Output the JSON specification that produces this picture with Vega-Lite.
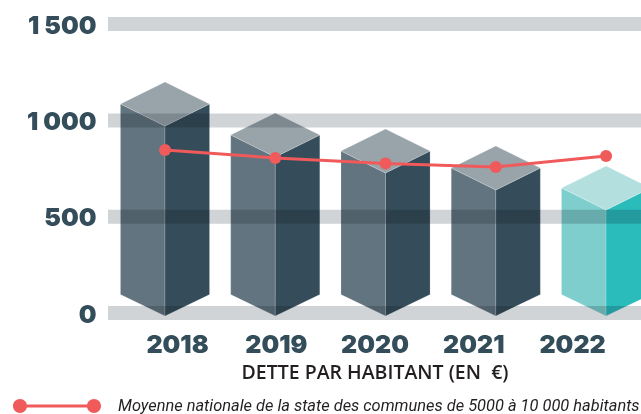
{
"$schema":"https://vega.github.io/schema/vega-lite/v6.json",
"width":533,"height":330,
"autosize":"none",
"padding":{"left":108,"top":0,"right":0,"bottom":84},
"background":"white",
"config":{"view":{"stroke":null}},
"datasets":{
"faces":[
{"annee":2018,"face":"gauche","x":2017.596,"haut":1085,"bas":96},{"annee":2018,"face":"gauche","x":2018,"haut":971,"bas":-15},
{"annee":2018,"face":"droite","x":2018,"haut":971,"bas":-15},{"annee":2018,"face":"droite","x":2018.404,"haut":1085,"bas":96},
{"annee":2018,"face":"dessus","x":2017.596,"haut":1085,"bas":1085},{"annee":2018,"face":"dessus","x":2018,"haut":1199,"bas":971},{"annee":2018,"face":"dessus","x":2018.404,"haut":1085,"bas":1085},
{"annee":2019,"face":"gauche","x":2018.596,"haut":924,"bas":96},{"annee":2019,"face":"gauche","x":2019,"haut":810,"bas":-15},
{"annee":2019,"face":"droite","x":2019,"haut":810,"bas":-15},{"annee":2019,"face":"droite","x":2019.404,"haut":924,"bas":96},
{"annee":2019,"face":"dessus","x":2018.596,"haut":924,"bas":924},{"annee":2019,"face":"dessus","x":2019,"haut":1038,"bas":810},{"annee":2019,"face":"dessus","x":2019.404,"haut":924,"bas":924},
{"annee":2020,"face":"gauche","x":2019.596,"haut":841,"bas":96},{"annee":2020,"face":"gauche","x":2020,"haut":727,"bas":-15},
{"annee":2020,"face":"droite","x":2020,"haut":727,"bas":-15},{"annee":2020,"face":"droite","x":2020.404,"haut":841,"bas":96},
{"annee":2020,"face":"dessus","x":2019.596,"haut":841,"bas":841},{"annee":2020,"face":"dessus","x":2020,"haut":955,"bas":727},{"annee":2020,"face":"dessus","x":2020.404,"haut":841,"bas":841},
{"annee":2021,"face":"gauche","x":2020.596,"haut":753,"bas":96},{"annee":2021,"face":"gauche","x":2021,"haut":639,"bas":-15},
{"annee":2021,"face":"droite","x":2021,"haut":639,"bas":-15},{"annee":2021,"face":"droite","x":2021.404,"haut":753,"bas":96},
{"annee":2021,"face":"dessus","x":2020.596,"haut":753,"bas":753},{"annee":2021,"face":"dessus","x":2021,"haut":867,"bas":639},{"annee":2021,"face":"dessus","x":2021.404,"haut":753,"bas":753},
{"annee":2022,"face":"gauche 2022","x":2021.596,"haut":649,"bas":96},{"annee":2022,"face":"gauche 2022","x":2022,"haut":535,"bas":-15},
{"annee":2022,"face":"droite 2022","x":2022,"haut":535,"bas":-15},{"annee":2022,"face":"droite 2022","x":2022.404,"haut":649,"bas":96},
{"annee":2022,"face":"dessus 2022","x":2021.596,"haut":649,"bas":649},{"annee":2022,"face":"dessus 2022","x":2022,"haut":763,"bas":535},{"annee":2022,"face":"dessus 2022","x":2022.404,"haut":649,"bas":649}
],
"moyenne":[
{"annee":2018,"moyenne":846},{"annee":2019,"moyenne":805},{"annee":2020,"moyenne":776},{"annee":2021,"moyenne":758},{"annee":2022,"moyenne":815}
]
},
"resolve":{"scale":{"x":"independent","color":"independent"}},
"layer":[
{"data":{"name":"faces"},
"mark":{"type":"area","stroke":"#ffffff","strokeOpacity":0.3,"strokeWidth":0.6},
"encoding":{
"x":{"field":"x","type":"quantitative","axis":null,"scale":{"domain":[2017.483,2022.317],"nice":false,"zero":false}},
"y":{"field":"haut","type":"quantitative","scale":{"domain":[-88,1625],"nice":false,"zero":false},
"axis":{"values":[0,500,1000,1500],"title":null,"domain":false,"ticks":false,"grid":false,"labelPadding":12,"labelFont":"Inter","labelFontWeight":900,"labelFontSize":25,"labelColor":"#344d5a","labelOffset":1,"labelExpr":"replace(format(datum.value,','),',',' ')"}},
"y2":{"field":"bas"},
"detail":{"field":"annee"},
"color":{"field":"face","type":"nominal","legend":null,"scale":{"domain":["gauche","droite","dessus","gauche 2022","droite 2022","dessus 2022"],"range":["#62747f","#354d5a","#98a4aa","#7ececd","#2abbbb","#b3e0df"]}}
}},
{"data":{"values":[{"repere":0},{"repere":500},{"repere":1000},{"repere":1500}]},
"mark":{"type":"rule","stroke":"#d1d4d7","strokeWidth":14,"blend":"multiply"},
"encoding":{
"y":{"field":"repere","type":"quantitative","scale":{"domain":[-88,1625],"nice":false,"zero":false}}
}},
{"data":{"name":"moyenne"},
"mark":{"type":"line","strokeWidth":3},
"encoding":{
"x":{"field":"annee","type":"quantitative","axis":null,"scale":{"domain":[2017.483,2022.317],"nice":false,"zero":false}},
"y":{"field":"moyenne","type":"quantitative","scale":{"domain":[-88,1625],"nice":false,"zero":false}},
"color":{"datum":"Moyenne nationale de la state des communes de 5000 à 10 000 habitants","scale":{"range":["#f15a5b"]},
"legend":{"title":null,"orient":"none","legendX":-95,"legendY":362,"padding":0,"symbolType":"M-.841,-.035H.841V.035H-.841ZM-1,0A.159,.159 0 1 1 -.682,0A.159,.159 0 1 1 -1,0ZM.682,0A.159,.159 0 1 1 1,0A.159,.159 0 1 1 .682,0Z","symbolSize":7744,"symbolFillColor":"#f15a5b","symbolStrokeColor":"#f15a5b","symbolStrokeWidth":0,"labelFont":"Roboto","labelFontStyle":"italic","labelFontSize":16.4,"labelColor":"#231f20","labelLimit":0,"labelOffset":17}}
}},
{"data":{"name":"moyenne"},
"mark":{"type":"point","filled":true,"size":145,"opacity":1,"color":"#f15a5b"},
"encoding":{
"x":{"field":"annee","type":"quantitative","axis":null,"scale":{"domain":[2017.483,2022.317],"nice":false,"zero":false}},
"y":{"field":"moyenne","type":"quantitative","scale":{"domain":[-88,1625],"nice":false,"zero":false}}
}},
{"data":{"name":"moyenne"},
"mark":{"type":"point","opacity":0},
"encoding":{
"x":{"field":"annee","type":"quantitative","scale":{"domain":[2017.301,2022.698],"nice":false,"zero":false},
"axis":{"values":[2018,2019,2020,2021,2022],"format":"d","title":"DETTE PAR HABITANT (EN \u00a0€)","titleFont":"Open Sans","titleFontWeight":600,"titleFontSize":19.5,"titleColor":"#231f20","titlePadding":6,"domain":false,"ticks":false,"grid":false,"labelPadding":2,"labelFont":"Inter","labelFontWeight":900,"labelFontSize":25,"labelColor":"#344d5a"}},
"y":{"datum":0,"type":"quantitative","scale":{"domain":[-88,1625],"nice":false,"zero":false}}
}}
]
}
